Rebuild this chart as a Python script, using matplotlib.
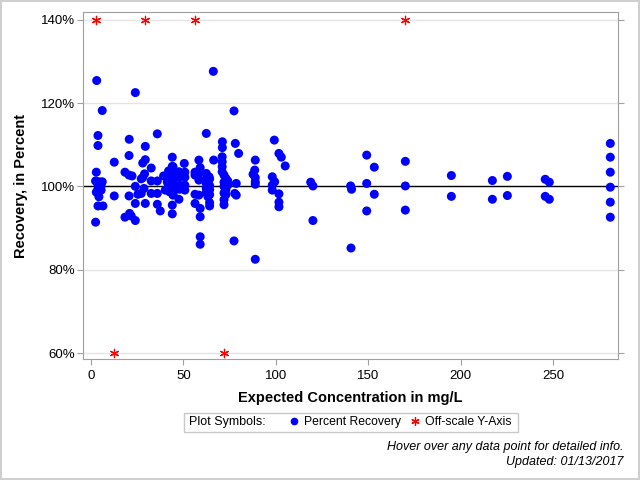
import matplotlib
matplotlib.use('Agg')
import matplotlib.pyplot as plt
from matplotlib.lines import Line2D
from matplotlib.patches import Rectangle

plt.rcParams['font.family'] = ['Liberation Sans', 'DejaVu Sans']

# expected concentration (mg/L) and percent recovery
conc = [
    3.1, 3.8, 3.8, 6.1, 2.9, 2.5, 4.3, 6.1, 3.8, 5.5, 3.8, 5.5, 2.9, 4.3, 3.8, 6.5, 2.5,
    12.6, 12.6,
    20.7, 20.6, 18.4, 20.6, 22.2, 20.6, 18.4, 20.9, 21.8,
    24.0, 24.0, 24.0, 24.0, 25.4,
    29.4, 29.4, 28.0, 29.0, 28.0, 27.2, 28.7, 27.2, 29.4,
    32.6, 32.6, 32.6, 35.9, 35.9, 35.9, 35.9, 37.5,
    44.0, 44.0, 42.0, 44.4, 39.3, 42.0, 43.4, 41.3, 43.4, 44.4, 44.4, 40.2, 42.5, 44.4,
    44.4, 44.0, 44.0, 44.4, 44.4, 42.0,
    50.5, 47.6, 50.8, 47.6, 50.8, 48.0, 50.8, 48.0, 50.8, 47.6,
    58.4, 59.1, 56.3, 58.4, 56.3, 58.4, 56.3, 58.4, 56.3, 59.1, 59.1, 59.1, 59.1,
    62.4, 66.4, 66.2, 62.4, 63.9, 62.4, 64.2, 62.4, 64.2, 62.4, 64.2, 62.4, 64.2, 63.3,
    64.2, 64.2,
    71.1, 71.1, 71.0, 71.0, 71.0, 71.0, 72.0, 73.0, 74.0, 72.0, 74.0, 72.0, 73.0, 72.0,
    73.0, 72.0, 72.0,
    77.4, 78.1, 79.9, 78.6, 77.8, 78.6, 77.4,
    88.9, 88.6, 87.7, 88.9, 88.9, 88.9, 88.9,
    99.2, 101.7, 103.0, 105.1, 98.1, 99.4, 98.1, 98.1, 101.7, 101.7, 101.7,
    118.9, 120.1, 120.1,
    140.5, 141.0, 140.7, 149.2, 149.2, 149.2, 153.3, 153.3, 170.1, 170.1, 170.1,
    195.0, 195.0, 217.2, 217.2, 225.3, 225.3, 245.8, 248.0, 245.8, 248.0,
    281.0, 281.0, 281.0, 281.0, 281.0, 281.0,
]
recovery = [
    125.4, 112.2, 109.8, 118.2, 103.4, 101.3, 101.1, 101.1, 100.3, 100.1, 99.4, 99.1, 98.6,
    97.5, 95.3, 95.3, 91.4,
    105.8, 97.7,
    111.3, 107.4, 103.4, 102.7, 102.5, 97.7, 92.6, 93.5, 92.9,
    122.5, 100.0, 95.9, 91.8, 98.1,
    109.6, 106.4, 105.6, 103.0, 102.1, 101.8, 99.5, 98.3, 95.9,
    104.4, 101.3, 98.3, 112.6, 101.3, 98.3, 95.7, 94.1,
    107.0, 104.8, 103.7, 103.7, 102.5, 102.2, 102.7, 101.0, 101.1, 101.5, 100.3, 99.1, 98.7,
    99.1, 98.1, 95.5, 93.4, 104.7, 97.9, 100.0,
    105.5, 103.5, 103.4, 102.2, 102.2, 100.3, 100.3, 99.3, 99.1, 96.9,
    106.3, 104.5, 103.4, 103.1, 102.7, 101.5, 98.1, 97.9, 95.9, 94.7, 92.7, 87.9, 86.1,
    112.7, 106.3, 127.6, 103.1, 102.3, 101.9, 101.8, 100.7, 100.2, 99.5, 99.2, 98.5, 98.0,
    97.5, 96.1, 95.3,
    110.7, 109.3, 107.1, 105.9, 104.7, 103.5, 102.7, 101.9, 101.3, 101.0, 100.3, 100.0,
    99.2, 98.4, 98.0, 96.8, 95.6,
    118.1, 110.3, 107.9, 100.7, 98.3, 97.9, 86.9,
    106.3, 103.9, 102.9, 102.1, 101.1, 100.5, 82.5,
    111.1, 107.9, 107.0, 104.9, 102.3, 101.1, 100.3, 99.1, 98.2, 96.2, 95.1,
    101.0, 100.1, 91.8,
    100.1, 99.3, 85.2, 107.5, 100.7, 94.1, 104.6, 98.1, 106.0, 100.1, 94.3,
    102.6, 97.6, 101.4, 96.9, 102.4, 97.8, 101.7, 101.0, 97.6, 96.9,
    110.3, 107.0, 103.4, 99.8, 96.2, 92.6,
]

# points outside the axis range, drawn at the edge
high_conc = [2.9, 29.4, 56.4, 170.1]
high_val = [140, 140, 140, 140]
low_conc = [12.6, 72.1]
low_val = [60, 60]

x_ticks = [0, 50, 100, 150, 200, 250]
y_ticks = [60, 80, 100, 120, 140]
y_labels = ['60%', '80%', '100%', '120%', '140%']

fig = plt.figure(figsize=(6.4, 4.8), dpi=100)
fig.patch.set_edgecolor('#cfcfcf')
fig.patch.set_linewidth(1.5)
ax = fig.add_axes([0.130, 0.2515, 0.836, 0.724])

for y in y_ticks:
    ax.axhline(y, color='#e4e4e4', lw=1, zorder=0)
ax.axhline(100, color='black', lw=1, zorder=1)

star = (6, 2, 0)
ax.scatter(conc, recovery, s=42, color='#0000ff', edgecolors='none', zorder=3)
ax.scatter(high_conc, high_val, s=36, marker=star, color='red', linewidths=0.9, zorder=3)
ax.scatter(low_conc, low_val, s=36, marker=star, color='red', linewidths=0.9, zorder=3)

ax.set_xlim(-4.2, 285.3)
ax.set_ylim(58.5, 141.9)
ax.set_xticks(x_ticks)
ax.set_yticks(y_ticks)
ax.set_yticklabels(y_labels)
ax.tick_params(axis='both', colors='#a0a0a0', labelcolor='black', labelsize=9.5, length=4)
ax.tick_params(axis='y', right=True, pad=2)
for sp in ax.spines.values():
    sp.set_color('#a0a0a0')

ax.set_xlabel('Expected Concentration in mg/L', fontsize=10.5, fontweight='bold', labelpad=7)
ax.set_ylabel('Recovery, in Percent', fontsize=10.5, fontweight='bold', labelpad=9)

# legend row
fig.text(189 / 640, 1 - 422 / 480, 'Plot Symbols:', fontsize=9, va='center')
handles = [
    Line2D([], [], ls='none', marker='o', ms=5.5, color='#0000ff', mec='none', label='Percent Recovery'),
    Line2D([], [], ls='none', marker=star, ms=6, color='red', mew=0.9, label='Off-scale Y-Axis'),
]
fig.legend(handles=handles, loc='center left', bbox_to_anchor=(288 / 640, 1 - 422 / 480),
           ncol=2, frameon=False, fontsize=8.8, handlelength=1, handletextpad=0.35,
           columnspacing=0.6, borderpad=0, borderaxespad=0)
fig.patches.append(Rectangle((184 / 640, 1 - 432 / 480), 334 / 640, 19 / 480,
                             transform=fig.transFigure, fill=False, edgecolor='#c8c8c8', lw=1))

fig.text(624 / 640, 1 - 447 / 480, 'Hover over any data point for detailed info.',
         fontsize=9, style='italic', ha='right', va='center')
fig.text(624 / 640, 1 - 462 / 480, 'Updated: 01/13/2017',
         fontsize=9, style='italic', ha='right', va='center')

fig.savefig('out.png', dpi=100, edgecolor=fig.get_edgecolor())
